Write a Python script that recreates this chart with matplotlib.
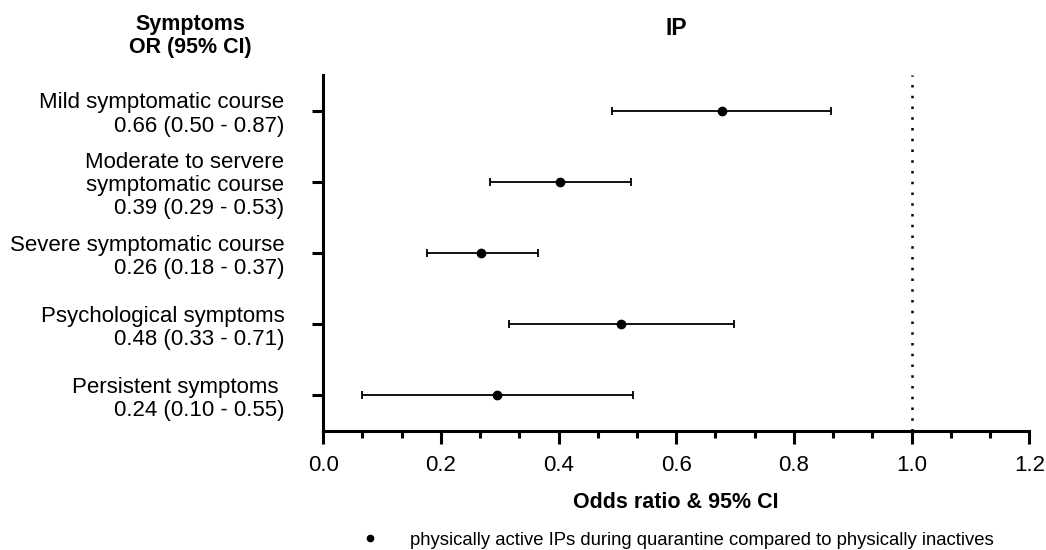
import matplotlib
matplotlib.use("Agg")
import matplotlib.pyplot as plt
from matplotlib.ticker import MultipleLocator

plt.rcParams['font.family'] = ['Liberation Sans', 'DejaVu Sans']

# data
labels = ["Mild symptomatic course\n0.66 (0.50 - 0.87)",
          "Moderate to servere\nsymptomatic course\n0.39 (0.29 - 0.53)",
          "Severe symptomatic course\n0.26 (0.18 - 0.37)",
          "Psychological symptoms\n0.48 (0.33 - 0.71)",
          "Persistent symptoms \n0.24 (0.10 - 0.55)"]
odds = [0.677, 0.403, 0.269, 0.506, 0.296]
ci_low = [0.491, 0.283, 0.176, 0.315, 0.066]
ci_high = [0.863, 0.523, 0.365, 0.699, 0.527]
ypos = [5, 4, 3, 2, 1]

fig = plt.figure(figsize=(10.46, 5.5), dpi=100)
ax = fig.add_axes([0.309, 0.2164, 0.675, 0.6472])

err_lo = [o - l for o, l in zip(odds, ci_low)]
err_hi = [h - o for o, h in zip(odds, ci_high)]
ax.errorbar(odds, ypos, xerr=[err_lo, err_hi], fmt='none', ecolor='black',
            elinewidth=1.3, capsize=3, capthick=1.3)
ax.plot(odds, ypos, 'o', color='black', markersize=6,
        label="physically active IPs during quarantine compared to physically inactives")
ax.axvline(1.0, color='black', lw=1.8, linestyle=(0, (1, 3.3)))

ax.set_xlim(0, 1.2)
ax.set_ylim(0.5, 5.5)
ax.xaxis.set_minor_locator(MultipleLocator(0.2 / 3))
ax.set_xticks([0.0, 0.2, 0.4, 0.6, 0.8, 1.0, 1.2])
ax.set_xticklabels(["0.0", "0.2", "0.4", "0.6", "0.8", "1.0", "1.2"])
ax.set_yticks(ypos)
ax.set_yticklabels(labels, ha='right', multialignment='right', linespacing=1.15)

for s in ['top', 'right']:
    ax.spines[s].set_visible(False)
for s in ['left', 'bottom']:
    ax.spines[s].set_linewidth(2.2)

ax.tick_params(axis='x', which='major', length=9, width=2.2, labelsize=16, pad=8)
ax.tick_params(axis='x', which='minor', length=5, width=2.2)
ax.tick_params(axis='y', which='major', length=8, width=2.2, labelsize=16, pad=20)

ax.set_xlabel("Odds ratio & 95% CI", fontsize=15.5, fontweight='bold', labelpad=12)
fig.text(0.647, 0.949, "IP", ha='center', va='center', fontsize=16.5, fontweight='bold')
fig.text(0.1816, 0.9345, "Symptoms\nOR (95% CI)", ha='center', va='center',
         fontsize=15.5, fontweight='bold', linespacing=1.15)

fig.legend(loc='center', bbox_to_anchor=(0.643, 0.018), frameon=False,
           fontsize=13.3, handletextpad=1.2, markerscale=0.75)

fig.savefig("out.png", dpi=100)
